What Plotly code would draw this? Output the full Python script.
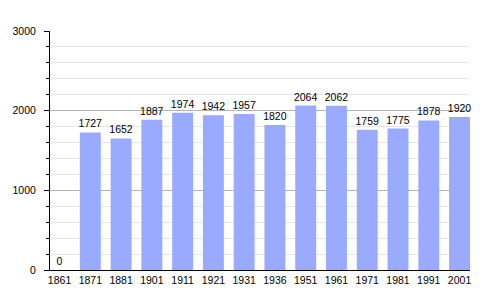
import plotly.graph_objects as go

years = ["1861", "1871", "1881", "1901", "1911", "1921", "1931", "1936",
         "1951", "1961", "1971", "1981", "1991", "2001"]
population = [0, 1727, 1652, 1887, 1974, 1942, 1957, 1820,
              2064, 2062, 1759, 1775, 1878, 1920]

fig = go.Figure(
    go.Bar(
        x=years,
        y=population,
        marker=dict(color="#9aabff", line=dict(width=0)),
        text=[str(v) for v in population],
        textposition="outside",
        constraintext="none",
        textfont=dict(family="Liberation Sans, Arial", size=10.5, color="black"),
        cliponaxis=False,
    )
)

fig.update_layout(
    width=500,
    height=300,
    margin=dict(l=50, r=30, t=31, b=30),
    paper_bgcolor="white",
    plot_bgcolor="white",
    bargap=0.32,
    showlegend=False,
    font=dict(family="Liberation Sans, Arial", size=10, color="black"),
    xaxis=dict(
        type="category",
        range=[-0.31, 13.34],
        showline=True,
        linecolor="black",
        linewidth=1,
        ticks="",
        showgrid=False,
        tickfont=dict(size=10.5),
    ),
    yaxis=dict(
        range=[0, 3000],
        dtick=1000,
        showline=True,
        linecolor="black",
        linewidth=1,
        ticks="outside",
        ticklen=5,
        tickcolor="black",
        showgrid=True,
        gridcolor="#b4b4b4",
        gridwidth=1,
        zeroline=False,
        ticklabelstandoff=6,
        tickfont=dict(size=10.5),
        minor=dict(
            dtick=200,
            showgrid=True,
            gridcolor="#e6e6e6",
            ticks="outside",
            ticklen=3,
            tickcolor="black",
        ),
    ),
)

fig.write_html("out.html")
